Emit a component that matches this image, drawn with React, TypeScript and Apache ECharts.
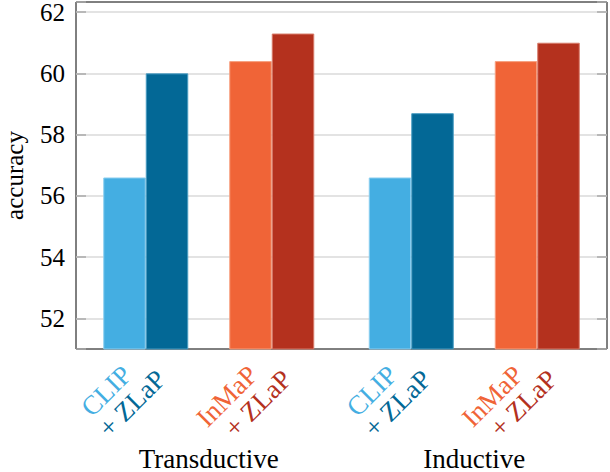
import React, { useEffect, useRef } from "react";
import * as echarts from "echarts";

// ---- data ----
const groups = ["Transductive", "Inductive"];
const clipValues = [56.6, 56.6];
const clipZlapValues = [60.0, 58.7];
const inmapValues = [60.4, 60.4];
const inmapZlapValues = [61.3, 61.0];
const seriesNames = ["CLIP", "+ ZLaP", "InMaP", "+ ZLaP"];
const yMin = 51;
const yMax = 62.33;

const FONT = "Liberation Serif";
const FS = 27;
const FS_TICK = 25;
const colors = ["#44AEE2", "#036896", "#F06437", "#B4311E"];
const edgeColors = ["#8CCFF0", "#4A9CC2", "#F7A081", "#D77A68"];
const labelOffsets = [[-3, -7], [-12, -10], [-3, -7], [-12, -10]];

export default function App() {
  const ref = useRef<HTMLDivElement>(null);
  useEffect(() => {
    if (!ref.current) return;
    const chart = echarts.init(ref.current, undefined, { renderer: "svg" });
    const valueSets = [clipValues, clipZlapValues, inmapValues, inmapZlapValues];
    const barSeries = (i: number) => ({
      type: "bar",
      name: seriesNames[i],
      data: valueSets[i],
      barWidth: 42.5,
      barGap: "0%",
      itemStyle: { color: colors[i], borderColor: edgeColors[i], borderWidth: 1 },
      label: {
        show: true,
        position: "bottom",
        distance: 14,
        offset: labelOffsets[i],
        rotate: 45,
        align: "right",
        formatter: seriesNames[i],
        color: colors[i],
        fontFamily: FONT,
        fontSize: FS,
      },
    });
    const option = {
      animation: false,
      textStyle: { fontFamily: FONT },
      grid: {
        left: 76,
        right: 3,
        top: 2,
        bottom: 123,
        outerBoundsMode: "none",
        containLabel: false,
        show: true,
        borderColor: "#000",
        borderWidth: 1,
        backgroundColor: "transparent",
      },
      xAxis: {
        type: "category",
        data: groups,
        axisLine: { show: false },
        axisTick: { show: false },
        axisLabel: { margin: 96, color: "#000", fontFamily: FONT, fontSize: FS },
      },
      yAxis: [
        {
          type: "value",
          min: yMin,
          max: yMax,
          name: "accuracy",
          nameLocation: "middle",
          nameGap: 49,
          nameTextStyle: { color: "#000", fontFamily: FONT, fontSize: 25 },
          axisLine: { show: false },
          axisTick: { show: true, inside: true, length: 10, lineStyle: { color: "#aaa", width: 1.5 } },
          axisLabel: {
            margin: 11,
            color: "#000",
            fontFamily: FONT,
            fontSize: FS_TICK,
            formatter: (v: number) => (Number.isInteger(v) && v % 2 === 0 ? String(v) : ""),
          },
          splitLine: { show: true, showMinLine: false, showMaxLine: false, lineStyle: { color: "#dadada", width: 1.5 } },
        },
        {
          type: "value",
          position: "right",
          min: yMin,
          max: yMax,
          axisLine: { show: false },
          axisTick: { show: true, inside: true, length: 10, lineStyle: { color: "#aaa", width: 1.5 } },
          axisLabel: { show: false },
          splitLine: { show: false },
        },
      ],
      series: [
        barSeries(0),
        barSeries(1),
        { type: "bar", name: "gap", data: [], barWidth: 41, barGap: "0%" },
        barSeries(2),
        barSeries(3),
      ],
    };
    chart.setOption(option as any);
    return () => chart.dispose();
  }, []);
  return (
    <div
      ref={ref}
      style={{ position: "fixed", left: 0, top: 0, width: 610, height: 472, background: "#fff" }}
    />
  );
}
